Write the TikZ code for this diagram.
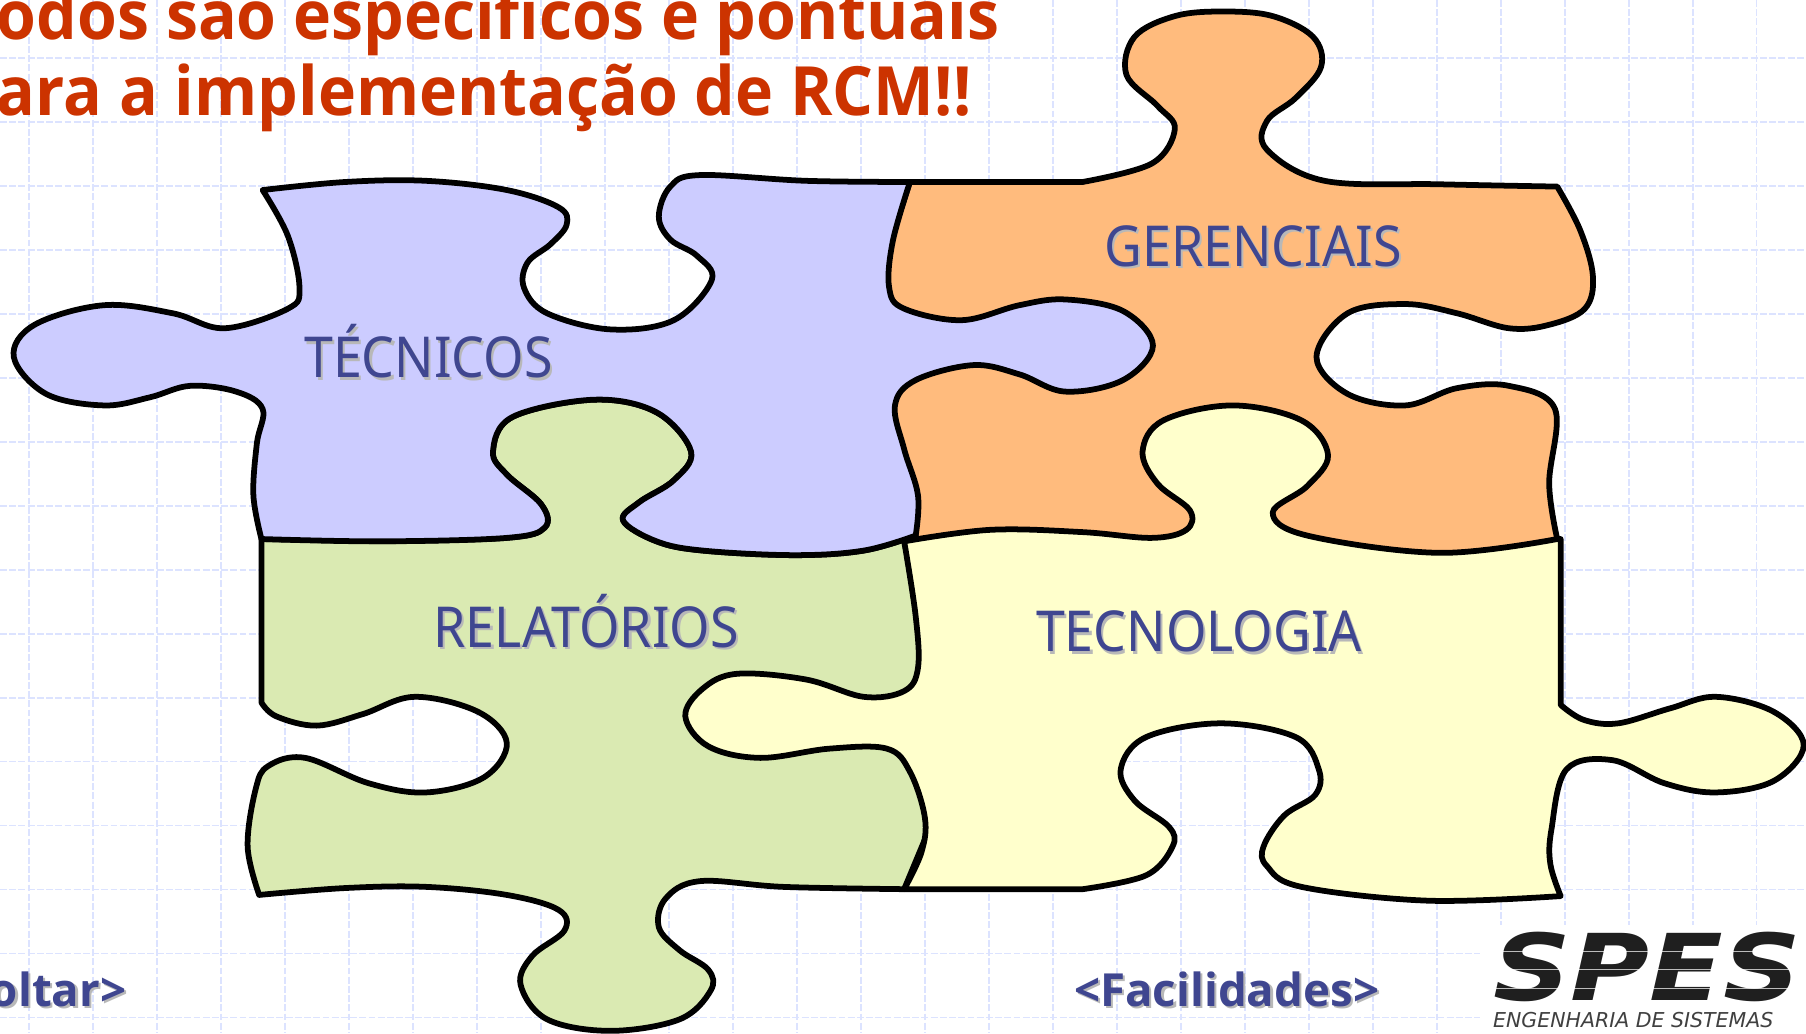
\documentclass[tikz,border=0pt]{standalone}
\usepackage{fontspec}
\setmainfont{Noto Sans}
\newfontfamily\boldfam{Open Sans}
\newfontfamily\logofont{DejaVu Sans}
\definecolor{gridc}{HTML}{DCE3FF}
\definecolor{purp}{HTML}{CCCCFF}
\definecolor{oran}{HTML}{FFBB7D}
\definecolor{gree}{HTML}{DAEAB2}
\definecolor{yell}{HTML}{FFFFCC}
\definecolor{ink}{HTML}{3F4690}
\definecolor{head}{HTML}{CC3300}
\newcommand{\shtext}[1]{\leavevmode\rlap{\kern1pt\raisebox{-1pt}{\textcolor{black!28}{#1}}}\textcolor{ink}{#1}}
\tikzset{
  piece/.style={draw=black,line width=2.5pt,line join=round},
  lab/.style={inner sep=0,anchor=base,xscale=.92,font=\fontsize{24.5}{24.5}\selectfont},
  linkt/.style={inner sep=0,anchor=base,font=\boldfam\fontsize{19.8}{19.8}\selectfont\bfseries},
  headt/.style={inner sep=0,anchor=base west,xscale=.947,text=head,font=\boldfam\fontsize{29.5}{29.5}\selectfont\bfseries},
  gridl/.style={draw=gridc,line width=.55pt,dash pattern=on 3pt off 1pt},
}
\begin{document}
\begin{tikzpicture}[x=0.5pt,y=-0.5pt]
\useasboundingbox (0,0) rectangle (1568,897);
\fill[white] (0,0) rectangle (1568,897);
% grid
\foreach \k in {0,...,27} \draw[gridl] ({25.2+55.56*\k},0) -- ({25.2+55.56*\k},897);
\foreach \k in {0,...,15} \draw[gridl] (0,{50.3+55.56*\k}) -- (1568,{50.3+55.56*\k});
% heading
\node[headt] (h1) at (-3,34) {odos são específicos e pontuais};
\node[headt] (h2) at (-3,100) {ara a implementação de RCM!!};
% orange piece
\filldraw[piece,fill=oran] (790,158) -- (940,158)
  -- plot[smooth,tension=.6] coordinates {(940,158) (1000,142) (1020,112) (1005,92) (978,65) (985,32) (1020,14) (1062,10) (1105,14) (1140,32) (1147,58) (1125,85) (1100,105) (1100,130) (1150,157) (1250,160) (1352,162)}
  -- plot[smooth,tension=.6] coordinates {(1352,162) (1372,200) (1383,240) (1376,268) (1345,282) (1310,285) (1265,272) (1220,264) (1170,272) (1143,310) (1170,342) (1220,352) (1265,337) (1310,335) (1350,355) (1345,420) (1352,468)}
  -- (1300,490) -- (795,490) -- (760,400) -- (760,250) -- cycle;
% green piece
\filldraw[piece,fill=gree] (227,468) -- (330,470)
  -- plot[smooth,tension=.6] coordinates {(330,470) (440,467) (473,458) (470,438) (440,412) (428,392) (445,362) (516,347) (570,358) (600,392) (585,417) (555,436) (541,452) (570,470) (610,478) (690,482) (750,478) (795,465)}
  -- (820,600) -- (815,700) -- (785,772)
  -- plot[smooth,tension=.6] coordinates {(785,772) (680,770) (608,765) (578,780) (572,805) (590,825) (615,842) (617,860) (590,885) (530,895) (475,885) (452,855) (462,830) (490,808) (485,790) (440,777) (370,770) (300,771) (225,777)}
  -- plot[smooth,tension=.6] coordinates {(225,777) (215,735) (222,685) (233,665) (265,658) (320,680) (370,688) (420,675) (440,645) (415,618) (360,605) (315,620) (275,630) (240,622) (227,610)}
  -- cycle;
% purple piece
\filldraw[piece,fill=purp] (228,165)
  -- plot[smooth,tension=.6] coordinates {(228,165) (300,158) (370,157) (440,165) (485,180) (492,195) (478,212) (458,228) (455,250) (475,272) (530,286) (585,278) (618,243) (605,222) (582,208) (572,188) (582,162) (608,152) (700,157) (790,158)}
  -- plot[smooth,tension=.6] coordinates {(790,158) (775,210) (772,250) (785,268) (835,278) (885,265) (925,260) (975,270) (1001,300) (975,330) (925,340) (885,325) (845,317) (795,330) (777,352) (785,390) (797,430) (795,465)}
  -- plot[smooth,tension=.6] coordinates {(795,465) (750,478) (690,482) (610,478) (570,470) (541,452) (555,436) (585,417) (600,392) (570,358) (516,347) (445,362) (428,392) (440,412) (470,438) (473,458) (440,467) (330,470) (227,468)}
  -- plot[smooth,tension=.6] coordinates {(227,468) (220,430) (223,385) (228,355) (205,340) (165,335) (130,345) (90,352) (40,342) (12,310) (30,282) (90,265) (150,272) (195,285) (250,268) (260,250) (250,205) (228,165)}
  -- cycle;
% yellow piece
\filldraw[piece,fill=yell] (785,470)
  -- plot[smooth,tension=.6] coordinates {(785,470) (860,460) (940,462) (1000,467) (1030,460) (1033,443) (1005,420) (992,392) (1010,365) (1070,352) (1130,365) (1153,395) (1135,422) (1105,445) (1135,465) (1250,480) (1352,468)}
  -- (1355,468) -- (1355,612)
  -- plot[smooth,tension=.6] coordinates {(1355,612) (1375,625) (1405,628) (1450,615) (1490,605) (1540,618) (1566,647) (1540,678) (1490,688) (1445,680) (1400,660) (1360,668) (1347,720) (1346,750) (1355,778)}
  -- plot[smooth,tension=.6] coordinates {(1355,778) (1240,782) (1130,770) (1100,752) (1097,735) (1115,708) (1142,690) (1145,668) (1125,640) (1060,628) (995,640) (973,668) (985,695) (1015,718) (1018,735) (995,760) (940,772)}
  -- (785,772)
  -- plot[smooth,tension=.6] coordinates {(785,772) (800,740) (803,710) (790,670) (770,650) (720,650) (660,658) (615,648) (595,622) (610,598) (640,585) (700,590) (750,605) (785,600) (797,580) (795,535) (785,470)};
% labels
\node[lab] (tec) at (372,328) {\shtext{TÉCNICOS}};
\node[lab] (ger) at (1088,231) {\shtext{GERENCIAIS}};
\node[lab] (rel) at (509,562) {\shtext{RELATÓRIOS}};
\node[lab] (tcn) at (1041,566) {\shtext{TECNOLOGIA}};
\node[linkt,anchor=base east] (volt) at (110,874) {\shtext{oltar>}};
\node[linkt] (faci) at (1065,874) {\shtext{<Facilidades>}};
% logo
\fill[white] (1285,803) rectangle (1568,897);
\node[inner sep=0,anchor=base,text=black!88,xscale=1.17,text depth=0pt] (spes) at (1430,869)
  {\logofont\fontsize{40}{40}\selectfont\bfseries\itshape SPES};
\foreach \yy in {826,842,858} \draw[white,line width=.5pt,opacity=.7] (1290,\yy) -- (1568,\yy);
\node[inner sep=0,anchor=base,text=black!75,text height=6pt] (eng) at (1418,892)
  {\logofont\fontsize{8.9}{8.9}\selectfont\itshape ENGENHARIA DE SISTEMAS};
\end{tikzpicture}
\end{document}
